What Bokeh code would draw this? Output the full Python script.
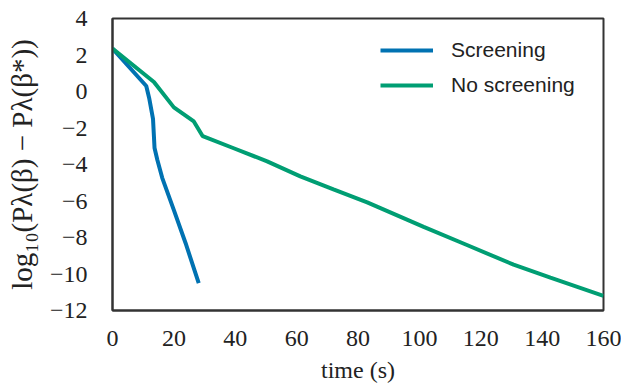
from bokeh.plotting import figure
from bokeh.models import Range1d, FixedTicker, Legend, LegendItem
from bokeh.embed import file_html
from bokeh.resources import INLINE

# Data
screening_t = [0, 11.0, 12.0, 13.2, 13.7, 14.6, 16.2, 20.0, 23.8, 28.1]
screening_v = [2.35, 0.30, -0.40, -1.50, -3.10, -3.74, -4.73, -6.50, -8.30, -10.50]

noscreen_t = [0, 13.5, 20.0, 26.5, 29.4, 39.5, 50.4, 61.2, 72.0, 83.0, 101.4, 115.5, 130.7, 142.7, 160.0]
noscreen_v = [2.35, 0.52, -0.87, -1.64, -2.45, -3.11, -3.83, -4.65, -5.36, -6.08, -7.42, -8.41, -9.49, -10.20, -11.20]

x_ticks = [0, 20, 40, 60, 80, 100, 120, 140, 160]
y_ticks = [-12, -10, -8, -6, -4, -2, 0, 2, 4]

series_names = ["Screening", "No screening"]
series_colors = ["#0072B2", "#009E73"]

p = figure(width=621, height=385, output_backend="svg", toolbar_location=None,
           x_range=Range1d(0, 160), y_range=Range1d(-12, 4),
           min_border_left=112, min_border_right=18, min_border_top=18, min_border_bottom=70)

r1 = p.line(screening_t, screening_v, line_color=series_colors[0], line_width=4)
r2 = p.line(noscreen_t, noscreen_v, line_color=series_colors[1], line_width=4)

p.xgrid.visible = False
p.ygrid.visible = False
p.outline_line_color = "#333333"
p.outline_line_width = 2
p.outline_line_alpha = 1

p.xaxis.ticker = FixedTicker(ticks=x_ticks)
p.yaxis.ticker = FixedTicker(ticks=y_ticks)
p.yaxis.major_label_overrides = {t: ("\u2212" + str(abs(t)) if t < 0 else str(t)) for t in y_ticks}

p.axis.axis_line_color = "#333333"
p.axis.axis_line_width = 2
p.axis.major_tick_line_color = None
p.axis.minor_tick_line_color = None
p.axis.major_label_text_font = "Liberation Serif"
p.axis.major_label_text_font_size = "24px"
p.axis.major_label_text_font_style = "normal"
p.axis.major_label_text_color = "#222222"
p.axis.axis_label_text_font = "Liberation Serif"
p.axis.axis_label_text_font_style = "normal"
p.axis.axis_label_text_color = "#222222"
p.xaxis.axis_label_text_font_size = "24px"
p.yaxis.axis_label_text_font_size = "29px"

p.xaxis.axis_label = "time (s)"
p.yaxis.axis_label = "log\u2081\u2080(P\u03bb(\u03b2) \u2212 P\u03bb(\u03b2*))"
p.xaxis.major_label_standoff = 14
p.yaxis.major_label_standoff = 19
p.xaxis.axis_label_standoff = 8
p.yaxis.axis_label_standoff = 9

legend = Legend(items=[LegendItem(label=series_names[0], renderers=[r1]),
                       LegendItem(label=series_names[1], renderers=[r2])],
                location=(268, 210))
legend.border_line_color = None
legend.background_fill_alpha = 0
legend.label_text_font = "Liberation Sans"
legend.label_text_font_size = "21px"
legend.label_text_color = "#222222"
legend.glyph_width = 53
legend.glyph_height = 30
legend.label_standoff = 18
legend.spacing = 5
legend.margin = 0
legend.padding = 10
p.add_layout(legend)

open("out.html", "w").write(file_html(p, INLINE))
